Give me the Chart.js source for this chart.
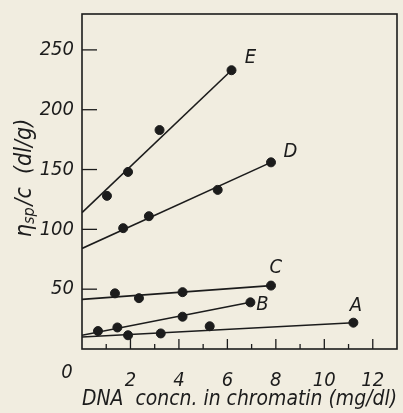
<!DOCTYPE html>
<html>
<head>
<meta charset="utf-8">
<script src="https://cdn.jsdelivr.net/npm/chart.js@4"></script>
<style>
  html, body { margin: 0; padding: 0; background: #f1ede0; }
  #wrap { width: 403px; height: 413px; }
</style>
</head>
<body>
<div id="wrap"><canvas id="chart" width="403" height="413"></canvas></div>
<script>
// measured points (DNA concn mg/dl, eta_sp/c dl/g)
const seriesNames = ['A', 'B', 'C', 'D', 'E'];
const pointsA = [{x: 1.9, y: 11.5}, {x: 3.25, y: 13}, {x: 5.27, y: 19}, {x: 11.2, y: 22}];
const pointsB = [{x: 0.66, y: 15}, {x: 1.46, y: 18}, {x: 4.15, y: 27}, {x: 6.95, y: 39}];
const pointsC = [{x: 1.36, y: 46.5}, {x: 2.35, y: 42.5}, {x: 4.15, y: 47.5}, {x: 7.8, y: 53}];
const pointsD = [{x: 1.7, y: 101}, {x: 2.76, y: 111}, {x: 5.6, y: 133}, {x: 7.8, y: 156}];
const pointsE = [{x: 1.03, y: 128}, {x: 1.9, y: 148}, {x: 3.2, y: 183}, {x: 6.17, y: 233}];

// fitted lines (start / end)
const fitA = [{x: 0, y: 10}, {x: 11.2, y: 22}];
const fitB = [{x: 0, y: 11.5}, {x: 6.95, y: 39}];
const fitC = [{x: 0, y: 41.5}, {x: 7.8, y: 53}];
const fitD = [{x: 0, y: 84}, {x: 7.8, y: 156}];
const fitE = [{x: 0, y: 114}, {x: 6.17, y: 233}];

// where the letters sit, in data units
const labelAt = [{x: 11.3, y: 36}, {x: 7.45, y: 37}, {x: 8.0, y: 68}, {x: 8.6, y: 165}, {x: 6.95, y: 243}];

const xTicks = [2, 4, 6, 8, 10, 12];
const yTicks = [50, 100, 150, 200, 250];

const ink = '#1c1c1c';
const fontFam = "'DejaVu Sans Condensed', 'Liberation Sans', sans-serif";

const pointSets = [pointsA, pointsB, pointsC, pointsD, pointsE];
const fitSets = [fitA, fitB, fitC, fitD, fitE];

const datasets = [];
fitSets.forEach((d, i) => {
    datasets.push({
        type: 'line', label: 'fit ' + seriesNames[i], data: d,
        borderColor: ink, borderWidth: 1.6, pointRadius: 0, fill: false
    });
});
pointSets.forEach((d, i) => {
    datasets.push({
        type: 'scatter', label: seriesNames[i], data: d,
        backgroundColor: ink, borderColor: ink, pointRadius: 4.5
    });
});

// frame, inward ticks, series letters, y title
const decorPlugin = {
    id: 'decor',
    afterDraw(chart) {
        const ctx = chart.ctx;
        const a = chart.chartArea;
        const xs = chart.scales.x, ys = chart.scales.y;
        ctx.save();
        ctx.strokeStyle = ink;
        ctx.lineWidth = 1.6;
        ctx.strokeRect(a.left, a.top, a.right - a.left, a.bottom - a.top);

        ctx.lineWidth = 1.3;
        for (let v = 1; v <= 12; v++) {
            const px = xs.getPixelForValue(v);
            const len = v % 2 === 0 ? 10 : 5;
            ctx.beginPath();
            ctx.moveTo(px, a.bottom);
            ctx.lineTo(px, a.bottom - len);
            ctx.stroke();
        }
        yTicks.forEach(v => {
            const py = ys.getPixelForValue(v);
            ctx.beginPath();
            ctx.moveTo(a.left, py);
            ctx.lineTo(a.left + 15, py);
            ctx.stroke();
        });

        ctx.fillStyle = ink;
        ctx.font = 'italic 20px ' + fontFam;
        ctx.textAlign = 'center';
        ctx.textBaseline = 'middle';
        labelAt.forEach((p, i) => {
            ctx.fillText(seriesNames[i], xs.getPixelForValue(p.x), ys.getPixelForValue(p.y));
        });

        // the lone 0 under the corner
        ctx.fillText('0', xs.getPixelForValue(0) - 15, a.bottom + 24);

        // y title: eta_sp / c (dl/g)
        ctx.translate(31, 178);
        ctx.rotate(-Math.PI / 2);
        ctx.textAlign = 'left';
        ctx.textBaseline = 'alphabetic';
        const big = 'italic 23px ' + fontFam;
        const small = 'italic 16px ' + fontFam;
        ctx.font = big;
        const w1 = ctx.measureText('\u03b7').width;
        ctx.font = small;
        const w2 = ctx.measureText('sp').width;
        ctx.font = big;
        const w3 = ctx.measureText('/c  (dl/g)').width;
        let x0 = -(w1 + w2 + w3 + 2) / 2;
        ctx.fillText('\u03b7', x0, 0);
        x0 += w1;
        ctx.font = small;
        ctx.fillText('sp', x0, 3);
        x0 += w2 + 2;
        ctx.font = big;
        ctx.fillText('/c  (dl/g)', x0, 0);
        ctx.restore();
    }
};

new Chart(document.getElementById('chart'), {
    type: 'scatter',
    data: { datasets: datasets },
    options: {
        responsive: false,
        animation: false,
        layout: { padding: { top: 14, right: 6, left: 0, bottom: 0 } },
        plugins: { legend: { display: false }, tooltip: { enabled: false } },
        scales: {
            x: {
                type: 'linear', min: 0, max: 13,
                afterFit(scale) { scale.height = 64; },
                afterBuildTicks(scale) { scale.ticks = xTicks.map(v => ({ value: v })); },
                grid: { display: false },
                border: { display: false },
                ticks: { color: ink, padding: 12, font: { family: fontFam, size: 20, style: 'italic' } },
                title: {
                    display: true, text: 'DNA  concn. in chromatin (mg/dl)', color: ink,
                    align: 'end', padding: { top: 0, bottom: 1 },
                    font: { family: fontFam, size: 21, style: 'italic' }
                }
            },
            y: {
                type: 'linear', min: 0, max: 280,
                afterFit(scale) { scale.width = 82; },
                afterBuildTicks(scale) { scale.ticks = yTicks.map(v => ({ value: v })); },
                grid: { display: false },
                border: { display: false },
                ticks: { color: ink, padding: 0, font: { family: fontFam, size: 20, style: 'italic' } }
            }
        }
    },
    plugins: [decorPlugin]
});
</script>
</body>
</html>
